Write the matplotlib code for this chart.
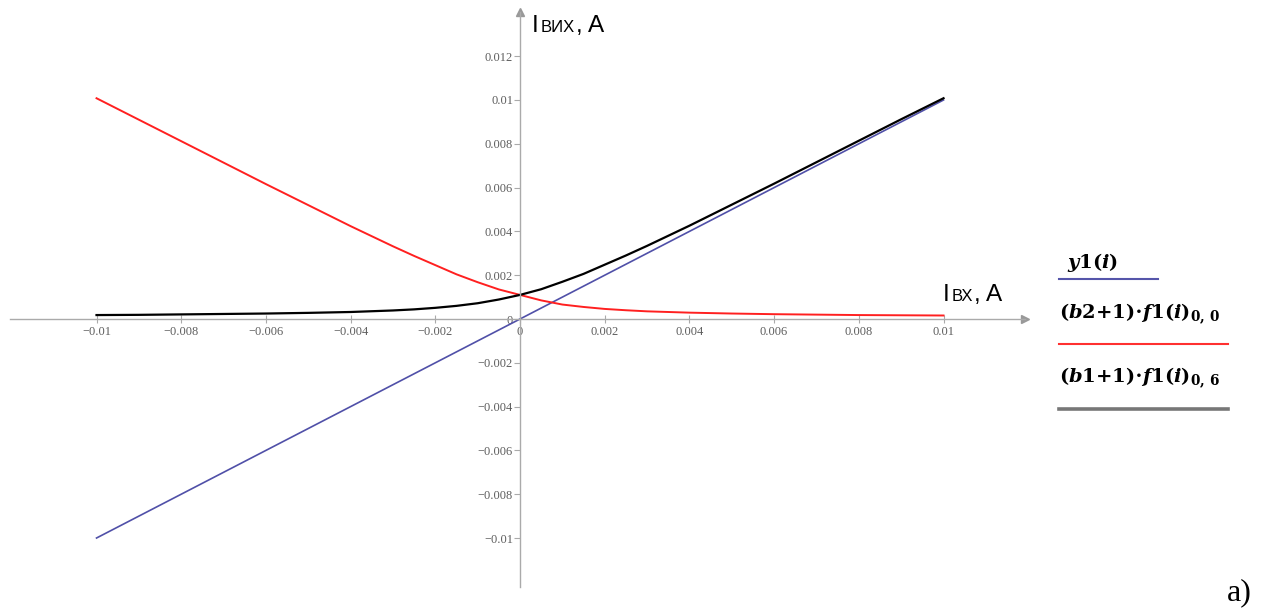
import matplotlib
matplotlib.use('Agg')
import matplotlib.pyplot as plt
from matplotlib.lines import Line2D
from matplotlib.offsetbox import TextArea, HPacker, AnnotationBbox

# input current, A
i_in = [-0.010, -0.009, -0.008, -0.007, -0.006, -0.005, -0.004, -0.003, -0.0025,
        -0.002, -0.0015, -0.001, -0.0005, 0.0, 0.0005, 0.001, 0.0015, 0.002,
        0.0025, 0.003, 0.004, 0.005, 0.006, 0.007, 0.008, 0.009, 0.010]

# (b1+1)*f1(i)  - black
out_b1 = [0.00018, 0.00019, 0.00021, 0.00023, 0.00025, 0.00028, 0.00032, 0.00039, 0.00044,
          0.00051, 0.00060, 0.00072, 0.00089, 0.00110, 0.00136, 0.00170, 0.00206, 0.00248,
          0.00290, 0.00334, 0.00426, 0.00522, 0.00618, 0.00716, 0.00814, 0.00912, 0.01008]

# (b2+1)*f1(i)  - red
out_b2 = [0.01008, 0.00910, 0.00812, 0.00714, 0.00616, 0.00520, 0.00424, 0.00332, 0.00288,
          0.00246, 0.00204, 0.00168, 0.00135, 0.00110, 0.00085, 0.00066, 0.00055, 0.00046,
          0.00040, 0.00035, 0.00029, 0.00025, 0.00022, 0.00020, 0.00018, 0.00017, 0.00016]

# y1(i) - blue straight line
y1_x = [-0.010, 0.010]
y1_y = [-0.010, 0.010]

xticks = [-0.01, -0.008, -0.006, -0.004, -0.002, 0, 0.002, 0.004, 0.006, 0.008, 0.01]
yticks = [-0.01, -0.008, -0.006, -0.004, -0.002, 0, 0.002, 0.004, 0.006, 0.008, 0.01, 0.012]

W, H = 1269, 610
plt.rcParams['font.family'] = 'Liberation Serif'
plt.rcParams['mathtext.fontset'] = 'custom'
plt.rcParams['mathtext.rm'] = 'DejaVu Serif:bold'
plt.rcParams['mathtext.it'] = 'DejaVu Serif:italic:bold'
plt.rcParams['mathtext.bf'] = 'DejaVu Serif:bold'

fig = plt.figure(figsize=(W / 100, H / 100), dpi=100)
ax = fig.add_axes([10 / W, 1 - 587 / H, 1015 / W, 575 / H])
ax.set_xlim(-0.012043, 0.011924)
ax.set_ylim(-0.012237, 0.014018)

axis_col = '#aaaaaa'
for s in ['top', 'right']:
    ax.spines[s].set_visible(False)
for s in ['left', 'bottom']:
    ax.spines[s].set_position(('data', 0))
    ax.spines[s].set_color(axis_col)
    ax.spines[s].set_linewidth(1.0)

def fmt(v):
    return ('%g' % v).replace('-', '\u2212')

ax.set_xticks(xticks)
ax.set_xticklabels([fmt(v) for v in xticks])
ax.set_yticks(yticks)
ax.set_yticklabels([fmt(v) for v in yticks])
ax.tick_params(axis='x', direction='inout', length=6, width=0.8, color=axis_col,
               labelsize=9, labelcolor='#5e5e5e', pad=2)
ax.tick_params(axis='y', direction='out', length=4, width=0.8, color=axis_col,
               labelsize=9, labelcolor='#5e5e5e', pad=1)

# arrow heads
ax.plot(1, 0, '>', transform=ax.get_yaxis_transform(), clip_on=False,
        color='#999999', ms=6)
ax.plot(0, 1, '^', transform=ax.get_xaxis_transform(), clip_on=False,
        color='#999999', ms=6)

ax.plot(y1_x, y1_y, color='#5050a8', lw=1.2)
ax.plot(i_in, out_b2, color='#ff2020', lw=1.4)
ax.plot(i_in, out_b1, color='black', lw=1.6)


def axis_label(big1, small, big2, x, y):
    parts = [TextArea(big1, textprops=dict(fontsize=17.5, family='Liberation Sans')),
             TextArea(small, textprops=dict(fontsize=12, family='Liberation Sans')),
             TextArea(big2, textprops=dict(fontsize=17.5, family='Liberation Sans'))]
    box = HPacker(children=parts, align='baseline', pad=0, sep=1)
    ab = AnnotationBbox(box, (x, H - y), xycoords='figure pixels',
                        box_alignment=(0, 0), frameon=False, pad=0)
    fig.add_artist(ab)


axis_label('I', 'ВИХ', ', A', 532, 37)
axis_label('I', 'ВХ', ', A', 943, 306)

# legend
fs = 14
fig.text(1067 / W, 1 - 268 / H, r'$\mathit{y}1(\mathit{i})$', fontsize=fs, va='baseline')
fig.add_artist(Line2D([1059 / W, 1158 / W], [1 - 279 / H] * 2, color='#5555aa', lw=1.5))
fig.text(1059 / W, 1 - 318 / H,
         r'$(\mathit{b}2{+}1){\cdot}\mathit{f}1(\mathit{i})_{0,\,0}$',
         fontsize=fs, va='baseline')
fig.add_artist(Line2D([1059 / W, 1228 / W], [1 - 344 / H] * 2, color='#ff3030', lw=1.5))
fig.text(1059 / W, 1 - 382 / H,
         r'$(\mathit{b}1{+}1){\cdot}\mathit{f}1(\mathit{i})_{0,\,6}$',
         fontsize=fs, va='baseline')
fig.add_artist(Line2D([1059 / W, 1228 / W], [1 - 409 / H] * 2, color='#777777', lw=2.6))

fig.text(1227 / W, 1 - 600 / H, 'a)', fontsize=23, va='baseline')

fig.savefig('out.png', dpi=100)
